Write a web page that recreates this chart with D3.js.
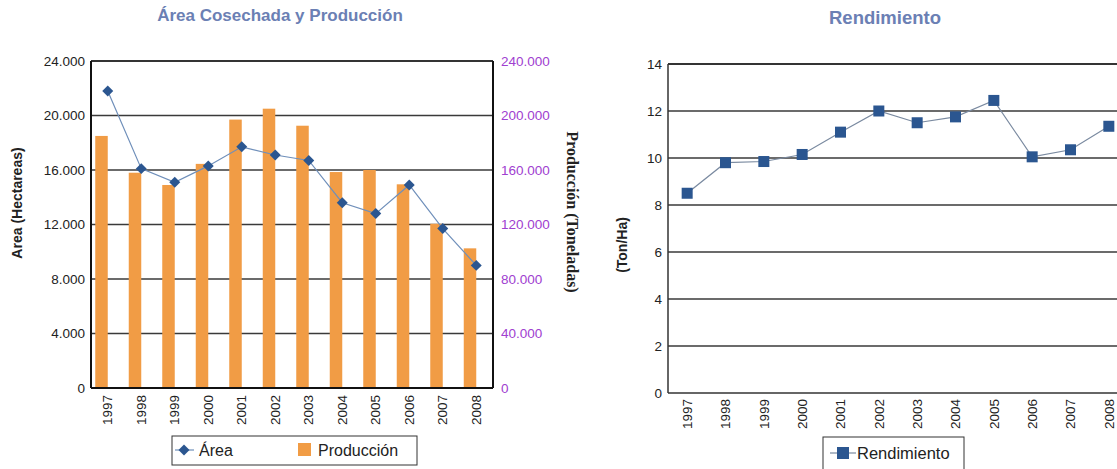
<!DOCTYPE html>
<html><head><meta charset="utf-8">
<script src="https://cdn.jsdelivr.net/npm/d3@7"></script>
<style>body{margin:0;background:#fff}svg{display:block}</style>
</head><body>
<svg id="c" width="1117" height="469"></svg>
<script>
const years = ["1997","1998","1999","2000","2001","2002","2003","2004","2005","2006","2007","2008"];
const area = [21800,16100,15100,16300,17700,17100,16700,13600,12800,14900,11700,9000];
const produccion = [185000,158000,149000,164500,197000,205000,192500,158500,160000,149500,120500,102500];
const rendimiento = [8.5,9.8,9.85,10.15,11.1,12.0,11.5,11.75,12.45,10.05,10.35,11.35];
const areaTicks = [0,4000,8000,12000,16000,20000,24000];
const prodTicks = [0,40000,80000,120000,160000,200000,240000];
const rendTicks = [0,2,4,6,8,10,12,14];

const svg = d3.select("#c");
const fmt = d => d3.format(",")(d).replace(/,/g,".");
const sans = "'Liberation Sans', Arial, sans-serif";
const serif = "'Liberation Serif', 'Times New Roman', serif";
const titleColor = "#6b80b4";
const tickFS = 13.5;

// ---------- Left chart ----------
const L = {x0:91, x1:493, y0:61, y1:388};
const xL = d3.scaleBand().domain(years).range([L.x0, L.x1]);
const yA = d3.scaleLinear().domain([0,24000]).range([L.y1, L.y0]);
const yP = d3.scaleLinear().domain([0,240000]).range([L.y1, L.y0]);
const gL = svg.append("g");

gL.append("text").attr("x",280).attr("y",21).attr("text-anchor","middle")
  .attr("font-family",sans).attr("font-weight","bold").attr("font-size",17)
  .attr("fill",titleColor).text("Área Cosechada y Producción");

gL.selectAll("line.g").data(areaTicks.filter(d=>d>0)).join("line")
  .attr("x1",L.x0).attr("x2",L.x1).attr("y1",d=>yA(d)).attr("y2",d=>yA(d))
  .attr("stroke","#3a3a3a").attr("stroke-width",1.5);

const bw = 12.5;
gL.selectAll("rect.b").data(years).join("rect")
  .attr("x",(d)=>xL(d)+xL.bandwidth()/2-bw)
  .attr("width",bw)
  .attr("y",(d,i)=>yP(produccion[i]))
  .attr("height",(d,i)=>L.y1-yP(produccion[i]))
  .attr("fill","#f19c45");

const axL = gL.append("g").attr("transform",`translate(${L.x0},0)`)
  .call(d3.axisLeft(yA).tickValues(areaTicks).tickFormat(fmt).tickSize(0).tickPadding(6));
axL.select(".domain").remove();
axL.selectAll("text").attr("font-family",sans).attr("font-size",tickFS).attr("fill","#222");
const axR = gL.append("g").attr("transform",`translate(${L.x1},0)`)
  .call(d3.axisRight(yP).tickValues(prodTicks).tickFormat(fmt).tickSize(0).tickPadding(8));
axR.select(".domain").remove();
axR.selectAll("text").attr("font-family",sans).attr("font-size",tickFS).attr("fill","#a040d0");
const axB = gL.append("g").attr("transform",`translate(0,${L.y1})`)
  .call(d3.axisBottom(xL).tickSize(0).tickPadding(0));
axB.select(".domain").remove();
axB.selectAll("text").attr("font-family",sans).attr("font-size",tickFS).attr("fill","#222")
  .attr("transform","rotate(-90)").attr("text-anchor","end").attr("dx",-7).attr("dy","0.35em").attr("y",0);

gL.append("line").attr("x1",L.x0).attr("x2",L.x1).attr("y1",L.y0).attr("y2",L.y0).attr("stroke","#222").attr("stroke-width",1.5);
gL.append("line").attr("x1",L.x0).attr("x2",L.x0).attr("y1",L.y0).attr("y2",L.y1).attr("stroke","#111").attr("stroke-width",2);
gL.append("line").attr("x1",L.x1).attr("x2",L.x1).attr("y1",L.y0).attr("y2",L.y1).attr("stroke","#111").attr("stroke-width",2);
gL.append("line").attr("x1",L.x0).attr("x2",L.x1).attr("y1",L.y1).attr("y2",L.y1).attr("stroke","#111").attr("stroke-width",2);

const cx = d => xL(d)+xL.bandwidth()/2;
const diamond = d3.symbol(d3.symbolSquare, 60);
gL.append("path").datum(years)
  .attr("d",d3.line().x(d=>cx(d)).y((d,i)=>yA(area[i])))
  .attr("fill","none").attr("stroke","#6f8fba").attr("stroke-width",1.2);
gL.selectAll("path.dm").data(years).join("path")
  .attr("d",diamond)
  .attr("transform",(d,i)=>`translate(${cx(d)},${yA(area[i])}) rotate(45)`)
  .attr("fill","#2b5690");

gL.append("text").attr("transform","translate(22,203) rotate(-90)").attr("text-anchor","middle")
  .attr("font-family",sans).attr("font-weight","bold").attr("font-size",14).attr("fill","#222")
  .text("Area (Hectareas)");
gL.append("text").attr("transform","translate(567,212) rotate(90)").attr("text-anchor","middle")
  .attr("font-family",serif).attr("font-weight","bold").attr("font-size",16).attr("fill","#222")
  .text("Producción (Toneladas)");

const lg = gL.append("g");
lg.append("rect").attr("x",172).attr("y",436).attr("width",245).attr("height",29)
  .attr("fill","#fff").attr("stroke","#333").attr("stroke-width",1);
lg.append("line").attr("x1",175).attr("x2",194).attr("y1",450).attr("y2",450).attr("stroke","#6f8fba").attr("stroke-width",1.2);
lg.append("path").attr("d",diamond).attr("transform","translate(184,450) rotate(45)").attr("fill","#2b5690");
lg.append("text").attr("x",199).attr("y",456).attr("font-family",sans).attr("font-size",16).attr("fill","#222").text("Área");
lg.append("rect").attr("x",298).attr("y",443).attr("width",13).attr("height",13).attr("fill","#f19c45");
lg.append("text").attr("x",318).attr("y",456).attr("font-family",sans).attr("font-size",16).attr("fill","#222").text("Producción");

// ---------- Right chart ----------
const R = {x0:668, x1:1128, y0:64, y1:393};
const xR = d3.scaleBand().domain(years).range([R.x0, R.x1]);
const yR = d3.scaleLinear().domain([0,14]).range([R.y1, R.y0]);
const gR = svg.append("g");

gR.append("text").attr("x",885).attr("y",24).attr("text-anchor","middle")
  .attr("font-family",sans).attr("font-weight","bold").attr("font-size",18.5)
  .attr("fill",titleColor).text("Rendimiento");

gR.selectAll("line.g").data(rendTicks.filter(d=>d>0)).join("line")
  .attr("x1",R.x0).attr("x2",R.x1).attr("y1",d=>yR(d)).attr("y2",d=>yR(d))
  .attr("stroke","#3a3a3a").attr("stroke-width",1.5);

const ayR = gR.append("g").attr("transform",`translate(${R.x0},0)`)
  .call(d3.axisLeft(yR).tickValues(rendTicks).tickSize(0).tickPadding(6));
ayR.select(".domain").remove();
ayR.selectAll("text").attr("font-family",sans).attr("font-size",tickFS).attr("fill","#222");
const axRB = gR.append("g").attr("transform",`translate(0,${R.y1})`)
  .call(d3.axisBottom(xR).tickSize(0).tickPadding(0));
axRB.select(".domain").remove();
axRB.selectAll("text").attr("font-family",sans).attr("font-size",tickFS).attr("fill","#222")
  .attr("transform","rotate(-90)").attr("text-anchor","end").attr("dx",-6).attr("dy","0.35em").attr("y",0);

gR.append("line").attr("x1",R.x0).attr("x2",R.x1).attr("y1",R.y0).attr("y2",R.y0).attr("stroke","#222").attr("stroke-width",1.5);
gR.append("line").attr("x1",R.x0).attr("x2",R.x0).attr("y1",R.y0).attr("y2",R.y1).attr("stroke","#333").attr("stroke-width",1.5);
gR.append("line").attr("x1",R.x0).attr("x2",R.x1).attr("y1",R.y1).attr("y2",R.y1).attr("stroke","#333").attr("stroke-width",1.5);

const cxR = d => xR(d)+xR.bandwidth()/2;
gR.append("path").datum(years)
  .attr("d",d3.line().x(d=>cxR(d)).y((d,i)=>yR(rendimiento[i])))
  .attr("fill","none").attr("stroke","#7a8aa0").attr("stroke-width",1.2);
gR.selectAll("rect.sq").data(years).join("rect")
  .attr("x",d=>cxR(d)-5.5).attr("y",(d,i)=>yR(rendimiento[i])-5.5)
  .attr("width",11).attr("height",11).attr("fill","#2b5690");

gR.append("text").attr("transform","translate(627,245) rotate(-90)").attr("text-anchor","middle")
  .attr("font-family",sans).attr("font-weight","bold").attr("font-size",14).attr("fill","#222")
  .text("(Ton/Ha)");

const lg2 = gR.append("g");
lg2.append("rect").attr("x",823).attr("y",437).attr("width",141).attr("height",40)
  .attr("fill","#fff").attr("stroke","#333").attr("stroke-width",1);
lg2.append("line").attr("x1",830).attr("x2",856).attr("y1",453).attr("y2",453).attr("stroke","#7a8aa0").attr("stroke-width",1.2);
lg2.append("rect").attr("x",837).attr("y",447).attr("width",12).attr("height",12).attr("fill","#2b5690");
lg2.append("text").attr("x",857).attr("y",459).attr("font-family",sans).attr("font-size",16.5).attr("fill","#222").text("Rendimiento");
</script>
</body></html>
